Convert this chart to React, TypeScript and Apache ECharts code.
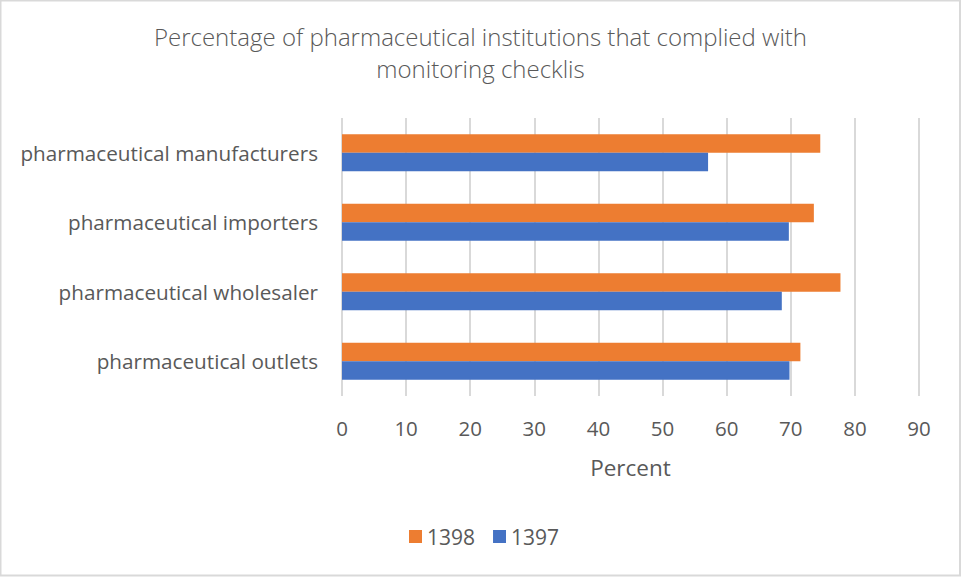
import React, { useEffect, useRef } from "react";
import * as echarts from "echarts";

// Categories listed bottom-to-top (category axis starts at the bottom)
const categories = [
  "pharmaceutical outlets",
  "pharmaceutical wholesaler",
  "pharmaceutical importers",
  "pharmaceutical manufacturers",
];
const values1397 = [69.8, 68.6, 69.7, 57.1];
const values1398 = [71.5, 77.75, 73.6, 74.6];
const legendOrder = ["1398", "1397"];
const xTicks = { min: 0, max: 90, interval: 10 };

const FONT = "'Open Sans', Lato, sans-serif";
const TEXT = "#595959";

export default function App() {
  const ref = useRef<HTMLDivElement>(null);

  useEffect(() => {
    if (!ref.current) return;
    const chart = echarts.init(ref.current, null, { renderer: "svg" });
    chart.setOption({
      animation: false,
      backgroundColor: "#ffffff",
      title: {
        text: "Percentage of pharmaceutical institutions that complied with\nmonitoring checklis",
        left: "center",
        top: 15,
        textStyle: {
          fontFamily: FONT,
          fontWeight: 300,
          fontSize: 24,
          color: TEXT,
          lineHeight: 32,
        },
      },
      legend: {
        data: legendOrder,
        bottom: 25,
        left: 404,
        icon: "rect",
        itemWidth: 13,
        itemHeight: 13,
        itemGap: 18,
        textStyle: { fontFamily: FONT, fontSize: 21, color: TEXT },
      },
      grid: { left: 342, right: 42, top: 118, bottom: 181, containLabel: false },
      xAxis: {
        type: "value",
        min: xTicks.min,
        max: xTicks.max,
        interval: xTicks.interval,
        name: "Percent",
        nameLocation: "middle",
        nameGap: 60,
        nameTextStyle: { fontFamily: FONT, fontSize: 22.5, color: TEXT },
        axisLine: { show: false },
        axisTick: { show: false },
        axisLabel: { fontFamily: FONT, fontSize: 20.5, color: TEXT, margin: 21 },
        splitLine: { show: true, lineStyle: { color: "#d9d9d9", width: 2 } },
      },
      yAxis: {
        type: "category",
        data: categories,
        axisLine: { show: false },
        axisTick: { show: false },
        axisLabel: { fontFamily: FONT, fontSize: 20.7, color: TEXT, margin: 24 },
      },
      series: [
        {
          name: "1398",
          type: "bar",
          data: values1398,
          itemStyle: { color: "#ED7D31" },
          barGap: "0%",
          barCategoryGap: "47%",
        },
        {
          name: "1397",
          type: "bar",
          data: values1397,
          itemStyle: { color: "#4472C4" },
          barGap: "0%",
          barCategoryGap: "47%",
        },
      ],
      graphic: [
        {
          type: "rect",
          shape: { x: 0.5, y: 0.5, width: 959.5, height: 575 },
          style: { fill: "none", stroke: "#d9d9d9", lineWidth: 2 },
          silent: true,
        },
      ],
    });
    return () => chart.dispose();
  }, []);

  return (
    <div
      ref={ref}
      style={{ position: "absolute", left: 0, top: 0, width: 961, height: 577 }}
    />
  );
}
